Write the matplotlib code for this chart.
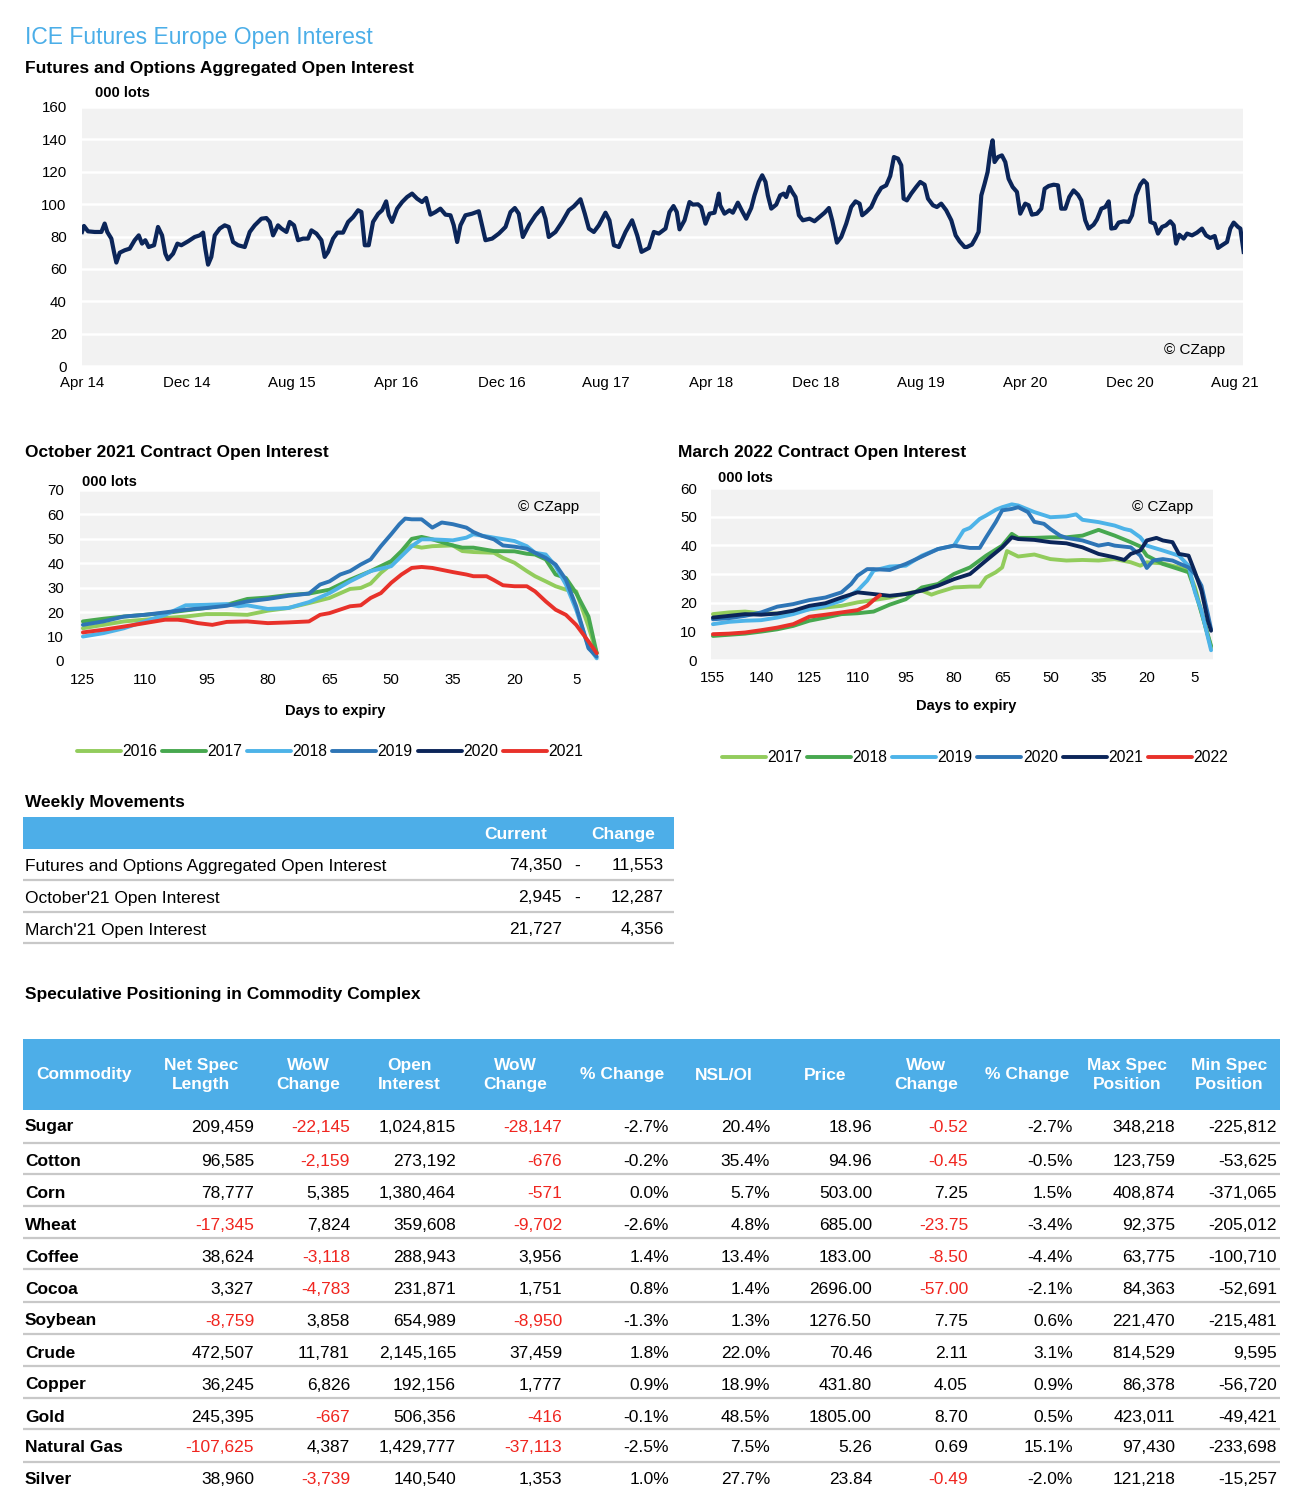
import matplotlib
matplotlib.use('Agg')
import matplotlib.pyplot as plt
from matplotlib import font_manager
from matplotlib.patches import Rectangle
from matplotlib.lines import Line2D

# ---------------- data ----------------
top_xlabels = ['Apr 14', 'Dec 14', 'Aug 15', 'Apr 16', 'Dec 16', 'Aug 17',
               'Apr 18', 'Dec 18', 'Aug 19', 'Apr 20', 'Dec 20', 'Aug 21']
# months since Apr 2014, aggregated open interest (000 lots)
oi_month = [0.00, 0.15, 0.46, 0.97, 1.48, 1.73, 1.93, 2.24, 2.44, 2.62, 2.88, 3.26, 3.64, 4.02, 4.33, 4.58, 4.83, 5.09, 5.50, 5.80,
            6.11, 6.36, 6.56, 6.95, 7.28, 7.58, 8.09, 8.60, 8.98, 9.24, 9.41, 9.62, 9.87, 10.13, 10.51, 10.89, 11.20, 11.53, 11.91, 12.42,
            12.80, 13.18, 13.69, 14.07, 14.33, 14.58, 14.96, 15.22, 15.60, 15.85, 16.18, 16.49, 16.87, 17.25, 17.51, 17.89, 18.27, 18.52, 18.78, 19.16,
            19.49, 19.92, 20.31, 20.69, 21.07, 21.32, 21.58, 21.88, 22.21, 22.60,
            22.90, 23.21, 23.41, 23.66, 24.05, 24.43, 24.81, 25.19, 25.57, 25.95, 26.26, 26.59, 26.97, 27.35, 27.74, 28.12, 28.37, 28.63, 28.88, 29.26,
            29.77, 30.28, 30.53, 30.79, 31.30, 31.81, 32.32, 32.70, 33.03, 33.33, 33.64, 34.10, 34.61, 35.11, 35.37, 35.62, 36.13, 36.64, 37.15, 37.53,
            38.04, 38.37, 38.68, 39.06, 39.44, 39.95, 40.25, 40.59, 40.97, 41.48, 41.98, 42.37, 42.70, 43.26, 43.64, 44.02, 44.53,
            44.83, 45.14, 45.39, 45.60, 45.98, 46.36, 46.62, 47.00, 47.25, 47.58, 47.89, 48.27, 48.60, 48.70, 49.03, 49.41, 49.67, 50.05, 50.38, 50.69,
            51.07, 51.32, 51.65, 51.91, 52.16, 52.34, 52.60, 52.98, 53.28, 53.54, 53.74, 54.00, 54.20, 54.45, 54.71, 55.01, 55.52, 55.90, 56.28, 56.67,
            57.00, 57.25, 57.61, 57.94, 58.32, 58.70, 59.03, 59.34, 59.54, 59.85, 60.23, 60.61, 60.99, 61.37, 61.68, 61.96, 62.27, 62.52, 62.70, 62.95,
            63.28, 63.66, 63.97, 64.30, 64.56, 64.94, 65.24, 65.57, 65.95, 66.34, 66.67, 66.97, 67.35,
            67.53, 67.91, 68.17, 68.42, 68.63, 68.88, 69.11, 69.31, 69.49, 69.64, 69.90, 70.20, 70.46, 70.71, 71.02, 71.35, 71.60, 71.98, 72.24, 72.49,
            72.88, 73.21, 73.46, 73.77, 74.15, 74.48, 74.73, 75.04, 75.34, 75.67, 76.01, 76.26, 76.56, 76.82, 77.20, 77.46, 77.79, 78.09, 78.35, 78.55,
            78.85, 79.11, 79.49, 79.87, 80.13, 80.43, 80.76, 81.02, 81.27, 81.53, 81.86, 82.11, 82.42, 82.72, 83.05, 83.31, 83.49, 83.74, 84.07, 84.33,
            84.71, 85.09, 85.47, 85.78, 86.11, 86.44, 86.69, 87.00, 87.38, 87.63, 87.89, 88.22, 88.40, 88.65]
oi_value = [82.8, 86.5, 83.2, 82.8, 82.8, 88.0, 82.8, 78.7, 70.5, 63.9, 70.0, 71.5, 72.5, 77.7, 80.7, 75.6, 77.7, 73.5, 74.6, 85.9,
            80.7, 69.4, 65.9, 69.4, 75.6, 74.6, 77.0, 79.7, 80.7, 82.4, 72.5, 62.6, 67.4, 80.7, 84.9, 86.9, 85.9, 76.6, 74.6, 73.5,
            82.8, 86.9, 91.0, 91.4, 89.0, 80.7, 86.9, 84.9, 82.8, 89.0, 86.9, 77.7, 78.7, 78.7, 83.8, 81.8, 77.7, 67.4, 70.5, 78.7,
            82.4, 82.4, 89.0, 92.0, 96.2, 95.2, 74.6, 74.6, 89.0, 94.0,
            96.2, 101.7, 93.2, 89.0, 97.2, 101.3, 104.4, 106.5, 103.4, 101.3, 103.8, 93.5, 95.1, 97.2, 93.5, 93.1, 86.9, 76.6, 86.9, 93.1,
            94.1, 95.6, 86.9, 77.7, 78.7, 81.8, 85.9, 95.1, 97.6, 94.1, 79.7, 86.9, 93.1, 97.6, 91.0, 79.7, 82.8, 89.0, 96.2, 98.6,
            103.0, 94.1, 84.9, 82.8, 86.9, 94.7, 90.0, 74.6, 73.5, 82.8, 90.0, 80.7, 70.5, 72.9, 82.8, 81.8, 84.9,
            95.1, 98.8, 95.1, 84.4, 90.0, 101.3, 99.7, 99.9, 98.2, 87.9, 94.1, 94.7, 106.5, 99.3, 94.1, 96.2, 94.7, 100.9, 95.6, 91.0,
            97.6, 105.4, 113.7, 117.8, 113.7, 105.4, 97.2, 99.7, 105.4, 106.5, 104.4, 110.6, 107.5, 104.4, 93.1, 90.0, 91.0, 89.4, 92.0, 94.7,
            97.6, 90.0, 76.2, 79.7, 87.9, 98.2, 101.7, 100.3, 93.1, 95.1, 98.2, 105.0, 110.0, 111.6, 117.4, 129.1, 128.1, 124.0, 103.4, 102.3,
            106.5, 110.6, 113.7, 112.0, 103.4, 99.3, 98.2, 100.3, 96.2, 90.0, 80.7, 77.0, 73.5,
            73.5, 75.0, 78.7, 82.8, 105.4, 112.6, 119.8, 132.2, 139.4, 126.0, 129.1, 130.1, 126.0, 115.7, 110.6, 107.5, 94.1, 100.3, 99.3, 93.5,
            94.1, 97.2, 109.5, 111.2, 112.0, 111.6, 97.2, 97.2, 104.4, 108.5, 105.8, 102.3, 90.0, 84.9, 87.3, 90.6, 97.2, 98.2, 101.7, 84.9,
            85.3, 88.6, 89.4, 89.0, 93.1, 105.4, 112.0, 114.7, 112.6, 89.0, 87.9, 81.8, 85.9, 86.9, 89.4, 86.9, 75.6, 81.1, 78.7, 81.8,
            80.7, 82.4, 84.9, 80.7, 79.1, 80.3, 72.9, 74.6, 76.6, 84.9, 88.6, 85.9, 84.9, 70.5]

# October 2021 contract: days to expiry / open interest (000 lots)
oct_years = ['2016', '2017', '2018', '2019', '2020', '2021']
oct_days_2016 = [125, 120, 115, 110, 105, 100, 95, 90, 85, 80, 75, 70, 65, 60, 57.4, 55, 52.5, 50, 47.5, 45,
                 42.6, 40, 35, 32.7, 30, 25, 22.8, 20, 17, 15, 12.4, 10, 7.5, 5, 2, 0]
oct_oi_2016 = [13.4, 14.8, 16.2, 16.9, 17.6, 18.2, 19.2, 19.2, 18.9, 20.6, 21.7, 23.7, 25.8, 29.5, 29.9, 31.7, 36.1, 39.5, 44.3, 47.3,
               46.4, 47.0, 47.3, 45.0, 44.6, 44.3, 42.2, 40.2, 36.8, 34.7, 32.6, 30.6, 29.2, 28.5, 14.1, 3.2]
oct_days_2017 = [125, 120, 115, 110, 105, 100, 95, 90, 85, 80, 75, 70, 65, 60, 55, 50, 47.5, 45, 42.6, 40,
                 35, 32.7, 30, 25, 20, 17, 15, 12.4, 10, 7.5, 5, 2, 0]
oct_oi_2017 = [16.2, 17.3, 18.2, 18.9, 19.6, 20.7, 21.7, 23.0, 25.4, 26.0, 27.0, 27.6, 29.2, 33.3, 36.8, 40.9, 45.0, 50.0, 50.8, 49.8,
               47.3, 46.4, 46.4, 45.0, 44.9, 43.9, 43.6, 41.6, 35.4, 34.0, 27.8, 18.2, 3.2]
oct_days_2018 = [125, 120, 115, 110, 105, 100, 95, 90, 87.1, 85, 80, 75, 70, 65, 60, 55, 50, 47.5, 45, 42.6,
                 40, 35, 31.7, 30, 25, 20, 17, 15, 12.4, 10, 7.5, 5, 2, 0]
oct_oi_2018 = [10.0, 11.4, 13.4, 16.2, 18.9, 22.8, 23.0, 23.3, 22.4, 22.8, 21.3, 21.7, 24.1, 27.8, 32.6, 36.8, 38.8, 42.9, 47.0, 49.8,
               49.8, 49.4, 50.5, 51.9, 50.5, 49.1, 47.0, 44.3, 43.6, 38.8, 31.3, 21.0, 5.9, 1.1]
oct_days_2019 = [125, 120, 115, 110, 105, 100, 95, 90, 85, 80, 75, 70, 67.3, 65, 62.4, 60, 57.4, 55, 52.5, 50,
                 48, 46.6, 45, 42.6, 40, 37.7, 35, 31.7, 30, 27.8, 25, 22.8, 20, 17, 15, 12.4, 10, 7.5, 5, 2, 0]
oct_oi_2019 = [14.8, 16.2, 18.2, 18.9, 19.9, 21.0, 21.7, 22.6, 24.4, 25.4, 26.7, 27.6, 31.3, 32.6, 35.4, 36.8, 39.5, 41.6, 47.0, 51.9,
               56.0, 58.3, 58.0, 58.0, 54.6, 56.7, 56.0, 54.6, 52.8, 51.2, 49.8, 47.3, 46.8, 46.0, 44.3, 42.2, 39.5, 33.3, 22.4, 5.2, 1.8]
oct_days_2020 = []
oct_oi_2020 = []
oct_days_2021 = [125, 120, 115, 110, 105, 101.9, 100, 97, 93.5, 90, 85, 80, 75, 70, 67.3, 65, 60, 57.4, 55, 52.5,
                 50, 47.5, 45, 42.6, 40, 35, 31.7, 30, 26.8, 25, 22.8, 20, 17, 15, 12.4, 10, 7.5, 5, 2, 0]
oct_oi_2021 = [11.7, 12.8, 14.1, 15.5, 16.9, 16.9, 16.5, 15.5, 14.8, 16.0, 16.2, 15.5, 15.8, 16.2, 18.9, 19.6, 22.4, 22.8, 25.8, 27.8,
               32.0, 35.4, 38.1, 38.5, 38.1, 36.4, 35.4, 34.7, 34.7, 33.1, 31.0, 30.6, 30.6, 28.5, 24.4, 21.0, 18.9, 14.8, 8.0, 3.2]

# March 2022 contract
mar_years = ['2017', '2018', '2019', '2020', '2021', '2022']
mar_days_2017 = [155, 150, 145, 140, 135, 130, 125, 120, 115, 110, 105, 100, 95, 90, 87, 85, 80, 75, 72, 70,
                 67, 65, 63.5, 60, 55, 50, 45, 40, 35, 30, 25, 22, 20, 15, 10, 7, 5, 0]
mar_oi_2017 = [16.0, 16.6, 16.9, 16.3, 16.2, 16.9, 17.7, 18.3, 18.9, 20.1, 20.9, 21.8, 23.2, 24.2, 22.8, 23.6, 25.3, 25.6, 25.6, 28.8,
               30.6, 32.3, 38.0, 36.1, 36.8, 35.2, 34.7, 34.9, 34.7, 35.2, 34.1, 32.9, 34.1, 33.7, 32.3, 31.2, 25.3, 4.3]
mar_days_2018 = [155, 150, 145, 140, 135, 130, 125, 120, 115, 110, 105, 100, 95, 90, 85, 80, 75, 70, 65, 62,
                 60, 55, 50, 45, 40, 35, 30, 25, 22, 20, 15, 10, 7, 5, 0]
mar_oi_2018 = [8.4, 8.8, 9.2, 9.9, 10.7, 11.9, 13.7, 14.8, 16.0, 16.3, 16.9, 19.3, 21.2, 25.3, 26.5, 30.0, 32.3, 36.4, 39.9, 44.0,
               42.6, 42.6, 42.8, 42.8, 43.4, 45.4, 43.4, 41.1, 39.6, 36.4, 33.5, 31.7, 30.6, 24.2, 4.9]
mar_days_2019 = [155, 150, 145, 140, 135, 130, 125, 120, 115, 110, 107, 105, 100, 95, 90, 85, 80, 77, 75, 72,
                 70, 67, 65, 62, 60, 55, 50, 45, 42, 40, 35, 30, 27, 25, 22, 20, 15, 10, 7, 5, 3, 0]
mar_oi_2019 = [12.5, 13.3, 13.7, 13.9, 14.8, 16.0, 17.7, 18.9, 20.7, 24.2, 27.7, 31.2, 32.6, 32.9, 36.4, 38.7, 39.9, 45.2, 46.1, 49.2,
               50.4, 52.4, 53.3, 54.3, 53.9, 51.6, 49.8, 50.1, 50.8, 48.9, 48.1, 46.9, 45.7, 45.2, 42.8, 39.9, 38.2, 36.4, 32.9, 23.6, 17.2, 3.4]
mar_days_2020 = [155, 150, 145, 140, 135, 130, 125, 120, 115, 112, 110, 107, 105, 100, 95, 90, 85, 80, 75, 72,
                 70, 67, 65, 62, 60, 57, 55, 52, 50, 47, 45, 40, 35, 32, 30, 25, 22, 20, 18, 15, 12, 10, 7, 5, 3, 1, 0]
mar_oi_2020 = [14.2, 14.6, 15.4, 16.6, 18.6, 19.5, 20.9, 21.8, 23.6, 26.5, 29.4, 31.7, 31.7, 31.4, 33.5, 36.1, 38.7, 39.9, 39.1, 39.1,
               42.8, 48.1, 52.2, 52.7, 53.3, 51.6, 48.2, 47.5, 45.7, 43.4, 42.6, 41.7, 39.9, 40.5, 39.9, 39.3, 36.4, 32.1, 34.7, 35.2,
               34.7, 33.7, 32.3, 30.0, 25.9, 16.0, 10.7]
mar_days_2021 = [155, 150, 145, 140, 135, 130, 125, 120, 115, 110, 105, 100, 95, 90, 85, 80, 75, 70, 65, 62,
                 60, 55, 50, 45, 40, 35, 30, 27, 25, 22, 20, 17, 15, 12, 10, 7, 5, 3, 1, 0]
mar_oi_2021 = [14.8, 15.4, 16.0, 15.8, 16.2, 17.2, 18.9, 19.8, 21.8, 23.6, 23.0, 22.4, 23.0, 24.2, 25.9, 28.2, 30.0, 34.7, 39.3, 42.8,
               42.2, 41.9, 41.1, 40.7, 39.3, 37.0, 35.8, 34.9, 37.0, 38.2, 41.7, 42.6, 41.7, 41.1, 37.0, 36.4, 30.6, 24.2, 13.7, 10.2]
mar_days_2022 = [155, 150, 145, 140, 135, 130, 125, 120, 115, 110, 107, 105, 103]
mar_oi_2022 = [9.0, 9.2, 9.6, 10.4, 11.3, 12.5, 15.1, 15.8, 16.6, 17.4, 18.9, 20.9, 22.6]

# Weekly movements
wm_labels = ['Futures and Options Aggregated Open Interest', "October'21 Open Interest", "March'21 Open Interest"]
wm_current = [74350, 2945, 21727]
wm_change = [-11553, -12287, 4356]

# Speculative positioning table
spec_headers = ['Commodity', 'Net Spec\nLength', 'WoW\nChange', 'Open\nInterest', 'WoW\nChange', '% Change',
                'NSL/OI', 'Price', 'Wow\nChange', '% Change', 'Max Spec\nPosition', 'Min Spec\nPosition']
commodities = ['Sugar', 'Cotton', 'Corn', 'Wheat', 'Coffee', 'Cocoa', 'Soybean', 'Crude', 'Copper', 'Gold', 'Natural Gas', 'Silver']
net_spec = [209459, 96585, 78777, -17345, 38624, 3327, -8759, 472507, 36245, 245395, -107625, 38960]
net_spec_wow = [-22145, -2159, 5385, 7824, -3118, -4783, 3858, 11781, 6826, -667, 4387, -3739]
open_int = [1024815, 273192, 1380464, 359608, 288943, 231871, 654989, 2145165, 192156, 506356, 1429777, 140540]
open_int_wow = [-28147, -676, -571, -9702, 3956, 1751, -8950, 37459, 1777, -416, -37113, 1353]
open_int_pct = [-2.7, -0.2, 0.0, -2.6, 1.4, 0.8, -1.3, 1.8, 0.9, -0.1, -2.5, 1.0]
nsl_oi = [20.4, 35.4, 5.7, 4.8, 13.4, 1.4, 1.3, 22.0, 18.9, 48.5, 7.5, 27.7]
price = [18.96, 94.96, 503.00, 685.00, 183.00, 2696.00, 1276.50, 70.46, 431.80, 1805.00, 5.26, 23.84]
price_wow = [-0.52, -0.45, 7.25, -23.75, -8.50, -57.00, 7.75, 2.11, 4.05, 8.70, 0.69, -0.49]
price_pct = [-2.7, -0.5, 1.5, -3.4, -4.4, -2.1, 0.6, 3.1, 0.9, 0.5, 15.1, -2.0]
max_spec = [348218, 123759, 408874, 92375, 63775, 84363, 221470, 814529, 86378, 423011, 97430, 121218]
min_spec = [-225812, -53625, -371065, -205012, -100710, -52691, -215481, 9595, -56720, -49421, -233698, -15257]

# ---------------- style ----------------
W, H = 1306, 1512
fig = plt.figure(figsize=(W / 100, H / 100), dpi=100)

names = {f.name for f in font_manager.fontManager.ttflist}
HAS_NARROW = 'Liberation Sans Narrow' in names
NARROW = 'Liberation Sans Narrow' if HAS_NARROW else 'Liberation Sans'
SANS = 'Liberation Sans'
plt.rcParams['font.family'] = [SANS, 'DejaVu Sans']
TICK = 12.5 if HAS_NARROW else 10.8
LEG = 12.5 if HAS_NARROW else 11.3
TITLE = 20 if HAS_NARROW else 16.5
COPY = 13 if HAS_NARROW else 11

NAVY = '#0B2559'
C_LGREEN = '#92CC5C'
C_GREEN = '#47A84F'
C_LBLUE = '#4DB3E8'
C_BLUE = '#2E75B6'
C_RED = '#E8312A'
HEAD_BLUE = '#4DAEE8'
SEP = '#C8C8C8'
NEG_RED = '#F0251F'


def fx(px):
    return px / W


def fy(py):
    return 1 - py / H


def add_ax(l, t, r, b):
    return fig.add_axes([fx(l), fy(b), (r - l) / W, (b - t) / H])


def txt(x, y, s, **kw):
    kw.setdefault('va', 'center')
    return fig.text(fx(x), fy(y), s, **kw)


def hline(x0, x1, y, color=SEP, lw=1.6):
    fig.add_artist(Line2D([fx(x0), fx(x1)], [fy(y), fy(y)], transform=fig.transFigure,
                          color=color, lw=lw, solid_capstyle='butt'))


def rect(x0, y0, x1, y1, color):
    fig.add_artist(Rectangle((fx(x0), fy(y1)), (x1 - x0) / W, (y1 - y0) / H,
                             transform=fig.transFigure, color=color, lw=0, zorder=0))


def style_ax(ax, ypad, xpad):
    ax.set_facecolor('#F2F2F2')
    ax.grid(axis='y', color='white', lw=1.8)
    ax.set_axisbelow(True)
    for s in ax.spines.values():
        s.set_visible(False)
    ax.tick_params(length=0, labelsize=TICK, labelfontfamily=NARROW)
    ax.tick_params(axis='y', pad=ypad)
    ax.tick_params(axis='x', pad=xpad)


# ---------------- header texts ----------------
txt(25, 44, 'ICE Futures Europe Open Interest', va='baseline', color='#4BAEE8',
    fontsize=TITLE, family=NARROW)
txt(25, 69, 'Futures and Options Aggregated Open Interest', fontsize=12.5, weight='bold')
txt(95, 93, '000 lots', fontsize=10.5, weight='bold')

# ---------------- top chart ----------------
ax = add_ax(82, 107, 1243, 366)
style_ax(ax, 11, 7)
ax.plot(oi_month, oi_value, color=NAVY, lw=3.0, solid_joinstyle='round')
ax.set_xlim(0, 88.6)
ax.set_ylim(0, 160)
ax.set_yticks(range(0, 161, 20))
ax.set_xticks(range(0, 89, 8))
ax.set_xticklabels(top_xlabels)
ax.text(0.9845, 0.062, '© CZapp', transform=ax.transAxes, ha='right', va='center',
        fontsize=COPY, family=NARROW)

# ---------------- October chart ----------------
txt(25, 452, 'October 2021 Contract Open Interest', fontsize=12.5, weight='bold')
txt(82, 482, '000 lots', fontsize=10.5, weight='bold')
ax2 = add_ax(80, 490, 600, 661)
style_ax(ax2, 11.5, 8.5)
oct_series = [(oct_days_2016, oct_oi_2016), (oct_days_2017, oct_oi_2017), (oct_days_2018, oct_oi_2018),
              (oct_days_2019, oct_oi_2019), (oct_days_2020, oct_oi_2020), (oct_days_2021, oct_oi_2021)]
pal = [C_LGREEN, C_GREEN, C_LBLUE, C_BLUE, NAVY, C_RED]
for (d, v), c, yr in zip(oct_series, pal, oct_years):
    ax2.plot(d, v, color=c, lw=2.8, label=yr, solid_joinstyle='round', solid_capstyle='round')
ax2.set_xlim(125.7, -0.8)
ax2.set_ylim(0, 70)
ax2.set_yticks(range(0, 71, 10))
ax2.set_xticks(range(125, 4, -15))
ax2.text(0.96, 0.9, '© CZapp', transform=ax2.transAxes, ha='right', va='center',
         fontsize=COPY, family=NARROW)
txt(335, 711, 'Days to expiry', fontsize=10.5, weight='bold', ha='center')
leg_kw = dict(loc='center', bbox_transform=fig.transFigure, ncol=6, frameon=False,
              handlelength=2.8, handletextpad=0.1, columnspacing=0.3,
              prop={'family': NARROW, 'size': LEG})
ax2.legend(bbox_to_anchor=(fx(330), fy(752)), **leg_kw)

# ---------------- March chart ----------------
txt(678, 452, 'March 2022 Contract Open Interest', fontsize=12.5, weight='bold')
txt(718, 478, '000 lots', fontsize=10.5, weight='bold')
ax3 = add_ax(711, 488, 1213, 660)
style_ax(ax3, 10, 8)
mar_series = [(mar_days_2017, mar_oi_2017), (mar_days_2018, mar_oi_2018), (mar_days_2019, mar_oi_2019),
              (mar_days_2020, mar_oi_2020), (mar_days_2021, mar_oi_2021), (mar_days_2022, mar_oi_2022)]
for (d, v), c, yr in zip(mar_series, pal, mar_years):
    ax3.plot(d, v, color=c, lw=2.8, label=yr, solid_joinstyle='round', solid_capstyle='round')
ax3.set_xlim(155.6, -0.6)
ax3.set_ylim(0, 60)
ax3.set_yticks(range(0, 61, 10))
ax3.set_xticks(range(155, 4, -15))
ax3.text(0.96, 0.89, '© CZapp', transform=ax3.transAxes, ha='right', va='center',
         fontsize=COPY, family=NARROW)
txt(966, 706, 'Days to expiry', fontsize=10.5, weight='bold', ha='center')
ax3.legend(bbox_to_anchor=(fx(975), fy(758)), **leg_kw)

# ---------------- Weekly movements table ----------------
txt(25, 803, 'Weekly Movements', fontsize=12.5, weight='bold')
rect(23, 817, 674, 849, HEAD_BLUE)
txt(516, 834, 'Current', ha='center', color='white', weight='bold', fontsize=12.5)
txt(623, 834, 'Change', ha='center', color='white', weight='bold', fontsize=12.5)
wm_rows_y = [866, 898, 930]
wm_sep_y = [880, 912, 943]
for i, (lab, cur, chg) in enumerate(zip(wm_labels, wm_current, wm_change)):
    y = wm_rows_y[i]
    txt(25, y, lab, fontsize=12.5)
    txt(562, y, f'{cur:,}', ha='right', fontsize=12.5)
    if chg < 0:
        txt(577, y, '-', ha='center', fontsize=12.5)
    txt(664, y, f'{abs(chg):,}', ha='right', fontsize=12.5)
    hline(23, 674, wm_sep_y[i])

# ---------------- Speculative positioning table ----------------
txt(25, 994, 'Speculative Positioning in Commodity Complex', fontsize=12.5, weight='bold')
rect(23, 1039, 1280, 1110, HEAD_BLUE)
head_x = [84, 201, 308, 409, 515, 622, 724, 825, 926, 1027, 1127, 1229]
for hx, h in zip(head_x, spec_headers):
    txt(hx, 1075, h, ha='center', color='white', weight='bold', fontsize=12.5, linespacing=1.3)

cols = [
    ([f'{v:,}' for v in net_spec], net_spec, True),
    ([f'{v:,}' for v in net_spec_wow], net_spec_wow, True),
    ([f'{v:,}' for v in open_int], open_int, False),
    ([f'{v:,}' for v in open_int_wow], open_int_wow, True),
    ([f'{v:.1f}%' for v in open_int_pct], open_int_pct, False),
    ([f'{v:.1f}%' for v in nsl_oi], nsl_oi, False),
    ([f'{v:.2f}' for v in price], price, False),
    ([f'{v:.2f}' for v in price_wow], price_wow, True),
    ([f'{v:.1f}%' for v in price_pct], price_pct, False),
    ([f'{v:,}' for v in max_spec], max_spec, False),
    ([f'{v:,}' for v in min_spec], min_spec, False),
]
col_right = [254, 350, 456, 562, 669, 770, 872, 968, 1073, 1175, 1277]
row_y = [1127, 1161, 1193, 1225, 1257, 1289, 1321, 1353, 1385, 1417, 1448, 1480]
sep_y = [1143, 1174, 1206, 1238, 1269, 1302, 1334, 1366, 1398, 1429, 1462]
for r, name in enumerate(commodities):
    y = row_y[r]
    txt(25, y, name, weight='bold', fontsize=12.5)
    for (labels, vals, red), xr in zip(cols, col_right):
        color = NEG_RED if (red and vals[r] < 0) else 'black'
        txt(xr, y, labels[r], ha='right', fontsize=12.5, color=color)
    if r < len(sep_y):
        hline(23, 1280, sep_y[r])

fig.savefig('out.png', dpi=100)
